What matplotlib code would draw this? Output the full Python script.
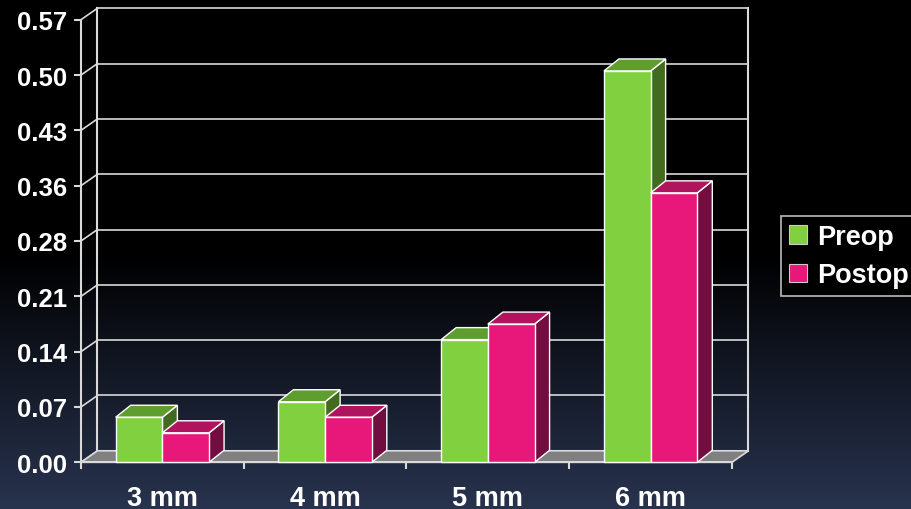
import matplotlib

matplotlib.use("Agg")
import matplotlib.pyplot as plt  # noqa: E402
import numpy as np  # noqa: E402
from matplotlib.patches import Patch  # noqa: E402

plt.rcParams["font.family"] = ["Liberation Sans", "DejaVu Sans"]

CATEGORIES = ["3 mm", "4 mm", "5 mm", "6 mm"]
PREOP = [0.058, 0.078, 0.158, 0.504]
POSTOP = [0.038, 0.058, 0.178, 0.347]
Y_TICKS = np.linspace(0, 0.57, 9)
Y_LABELS = ["0.00", "0.07", "0.14", "0.21", "0.28", "0.36", "0.43", "0.50", "0.57"]

W, H = 912, 510
# pixel geometry of the front plane
AX_L, AX_B, AX_W, AX_H = 81, 46.7, 651, 442.6
PX_X = AX_W / 4
PX_Y = AX_H / 0.57

# 3d offsets (pixels -> data units)
WALL_DX, WALL_DY = 16.5 / PX_X, 11.5 / PX_Y
BAR_DX, BAR_DY = 15 / PX_X, 12 / PX_Y
BAR_W = 46.7 / PX_X

SERIES = [
    ("Preop", PREOP, "#80d040", "#5f9e2e", "#436b20"),
    ("Postop", POSTOP, "#e8177a", "#b0145e", "#720d40"),
]
LINE = "#d9d9d9"

fig = plt.figure(figsize=(W / 100, H / 100), dpi=100)

# background: black fading to navy towards the bottom
bg = fig.add_axes([0, 0, 1, 1], zorder=-1)
rows = np.arange(H)
t = np.clip((rows - 255) / (H - 255), 0, 1)
bottom = np.array([40, 51, 78]) / 255
grad = (t[:, None] * bottom[None, :])[:, None, :].repeat(2, axis=1)
bg.imshow(grad, aspect="auto", extent=[0, 1, 0, 1], origin="upper")
bg.axis("off")

ax = fig.add_axes([AX_L / W, AX_B / H, AX_W / W, AX_H / H])
ax.set_facecolor("none")
ax.set_xlim(0, 4)
ax.set_ylim(0, 0.57)

# back wall, gridlines and the diagonals joining them to the front axis
top = 0.57 + WALL_DY
ax.plot([WALL_DX, WALL_DX], [WALL_DY, top], color=LINE, lw=1.5, clip_on=False, zorder=1)
ax.plot([4 + WALL_DX, 4 + WALL_DX], [WALL_DY, top], color=LINE, lw=1.5, clip_on=False, zorder=1)
for tk in Y_TICKS:
    ax.plot([WALL_DX, 4 + WALL_DX], [tk + WALL_DY, tk + WALL_DY], color=LINE, lw=1.2,
            clip_on=False, zorder=1)
    ax.plot([0, WALL_DX], [tk, tk + WALL_DY], color=LINE, lw=1.2, clip_on=False, zorder=1)

# floor
ax.fill([0, 4, 4 + WALL_DX, WALL_DX], [0, 0, WALL_DY, WALL_DY], facecolor="#808080",
        edgecolor=LINE, lw=1.2, clip_on=False, zorder=2)

z = 3
for i in range(len(CATEGORIES)):
    for j, (name, vals, front, topc, side) in enumerate(SERIES):
        x0 = i + 0.5 - BAR_W + j * BAR_W
        x1 = x0 + BAR_W
        h = vals[i]
        ax.fill([x1, x1 + BAR_DX, x1 + BAR_DX, x1], [0, BAR_DY, h + BAR_DY, h],
                facecolor=side, edgecolor="white", lw=1, clip_on=False, zorder=z)
        ax.fill([x0, x1, x1 + BAR_DX, x0 + BAR_DX], [h, h, h + BAR_DY, h + BAR_DY],
                facecolor=topc, edgecolor="white", lw=1, clip_on=False, zorder=z)
        ax.bar(x0, h, width=BAR_W, align="edge", color=front, edgecolor="white", lw=1,
               clip_on=False, zorder=z)
        z += 1

for s in ["top", "right"]:
    ax.spines[s].set_visible(False)
ax.spines["left"].set_color(LINE)
ax.spines["left"].set_linewidth(1.5)
ax.spines["bottom"].set_color(LINE)
ax.spines["bottom"].set_linewidth(1.5)

ax.set_yticks(Y_TICKS, Y_LABELS)
ax.tick_params(axis="y", colors=LINE, length=5, width=1.5, pad=5, labelcolor="white",
               labelsize=18.5)
for lab in ax.get_yticklabels():
    lab.set_fontweight("bold")

ax.set_xticks(np.arange(5))
ax.set_xticklabels([])
ax.tick_params(axis="x", which="major", colors=LINE, length=5, width=1.5)
ax.set_xticks(np.arange(len(CATEGORIES)) + 0.5, minor=True)
ax.set_xticklabels(CATEGORIES, minor=True, color="white", fontsize=19.5, fontweight="bold")
ax.tick_params(axis="x", which="minor", length=0, pad=16)

handles = [Patch(facecolor=s[2], edgecolor="#cccccc", lw=0.8, label=s[0]) for s in SERIES]
leg = fig.legend(handles=handles, loc="upper left", bbox_to_anchor=(781 / W, 1 - 217 / H),
                 frameon=True, fancybox=False, facecolor="black", edgecolor="#bbbbbb",
                 framealpha=1, prop={"weight": "bold", "size": 19.5}, labelcolor="white",
                 handlelength=0.67, handleheight=0.67, handletextpad=0.35, borderpad=0.3,
                 labelspacing=0.45, borderaxespad=0)
leg.get_frame().set_linewidth(1.2)

fig.savefig("out.png", dpi=100)
